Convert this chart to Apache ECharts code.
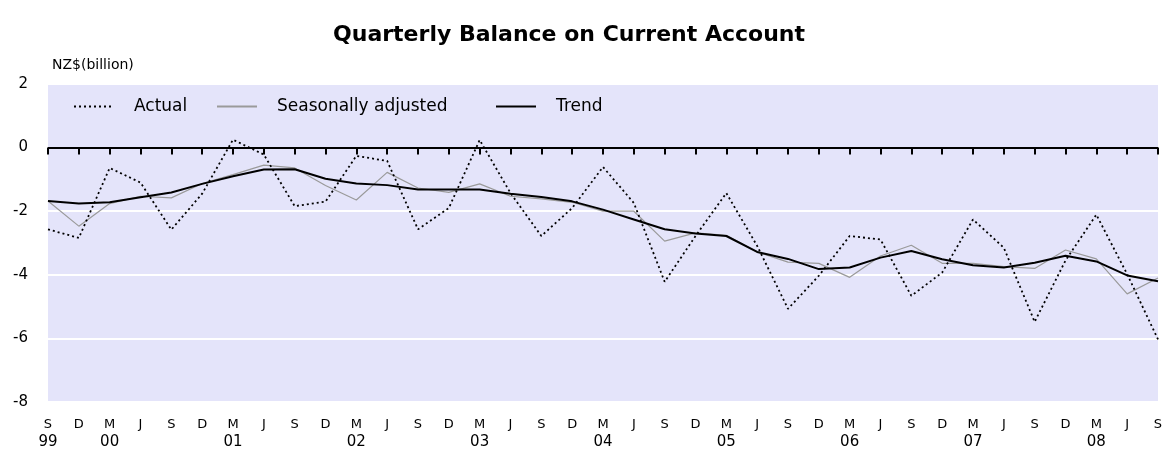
<!DOCTYPE html>
<html>
<head>
<meta charset="utf-8">
<script src="https://cdn.jsdelivr.net/npm/echarts@6/dist/echarts.min.js"></script>
<style>
  html, body { margin: 0; padding: 0; background: #fff; }
  #chart { width: 1166px; height: 467px; }
</style>
</head>
<body>
<div id="chart"></div>
<script>
// quarter tick labels, Sep 1999 .. Sep 2008
const months = ['S', 'D', 'M', 'J', 'S', 'D', 'M', 'J', 'S', 'D', 'M', 'J', 'S', 'D', 'M', 'J', 'S', 'D', 'M',
  'J', 'S', 'D', 'M', 'J', 'S', 'D', 'M', 'J', 'S', 'D', 'M', 'J', 'S', 'D', 'M', 'J', 'S']
const years = ['99', '', '00', '', '', '', '01', '', '', '', '02', '', '', '', '03', '', '', '', '04',
  '', '', '', '05', '', '', '', '06', '', '', '', '07', '', '', '', '08', '', '']

// NZ$ billion
const actual = [-2.57, -2.84, -0.64, -1.1, -2.58, -1.45, 0.25, -0.22, -1.84, -1.7, -0.26, -0.42,
  -2.57, -1.9, 0.24, -1.43, -2.78, -1.9, -0.61, -1.74, -4.22, -2.78, -1.43, -3.09,
  -5.07, -4.03, -2.78, -2.89, -4.66, -3.93, -2.26, -3.15, -5.48, -3.55, -2.11, -3.98, -6.03]
const seasonal = [-1.68, -2.47, -1.76, -1.53, -1.58, -1.13, -0.85, -0.55, -0.64, -1.19, -1.65, -0.78,
  -1.27, -1.41, -1.14, -1.53, -1.61, -1.72, -2.0, -2.0, -2.94, -2.68, -2.76, -3.28,
  -3.6, -3.64, -4.08, -3.41, -3.07, -3.64, -3.64, -3.74, -3.8, -3.22, -3.5, -4.6, -4.1]
const trend = [-1.68, -1.76, -1.72, -1.56, -1.41, -1.14, -0.9, -0.69, -0.68, -0.98, -1.13, -1.18,
  -1.32, -1.32, -1.32, -1.45, -1.55, -1.69, -1.95, -2.26, -2.57, -2.7, -2.78, -3.28,
  -3.5, -3.82, -3.77, -3.46, -3.25, -3.51, -3.7, -3.77, -3.62, -3.4, -3.58, -4.02, -4.2]

const categories = months.map((m, i) => m + i)
const font = 'DejaVu Sans'

const chart = echarts.init(document.getElementById('chart'))

// one legend per item so each can sit where the original puts it
const legendItem = (name, left) => ({
  data: [name],
  left: left,
  top: 93,
  itemWidth: 40,
  itemHeight: 14,
  selectedMode: false,
  itemStyle: { opacity: 0, borderWidth: 0 },
  textStyle: { fontFamily: font, fontSize: 17, color: '#000', padding: [0, 0, 0, 15] }
})

const option = {
  animation: false,
  backgroundColor: '#fff',
  title: {
    text: 'Quarterly Balance on Current Account',
    left: 564,
    top: 19,
    textAlign: 'center',
    textStyle: { fontFamily: font, fontSize: 22, fontWeight: 'bold', color: '#000' }
  },
  legend: [
    legendItem('Actual', 68),
    legendItem('Seasonally adjusted', 211),
    legendItem('Trend', 490)
  ],
  grid: {
    left: 48,
    right: 8,
    top: 84,
    bottom: 65,
    show: true,
    backgroundColor: '#e4e4fa',
    borderWidth: 0
  },
  xAxis: {
    type: 'category',
    data: categories,
    boundaryGap: false,
    axisLine: { show: false },
    axisTick: { show: true, length: 7, interval: 0, lineStyle: { color: '#000', width: 2 } },
    axisLabel: {
      interval: 0,
      margin: 16,
      color: '#000',
      fontFamily: font,
      formatter: (value, i) => `{m|${months[i]}}\n{y|${years[i] || ' '}}`,
      rich: {
        m: { fontFamily: font, fontSize: 13, lineHeight: 14, color: '#000' },
        y: { fontFamily: font, fontSize: 15, lineHeight: 20, color: '#000' }
      }
    },
    splitLine: { show: false }
  },
  yAxis: {
    type: 'value',
    min: -8,
    max: 2,
    interval: 2,
    name: 'NZ$(billion)',
    nameLocation: 'end',
    nameGap: 12,
    nameTextStyle: { fontFamily: font, fontSize: 14, color: '#000', align: 'left', padding: [0, 0, 0, 4] },
    axisLine: { show: false },
    axisTick: { show: false },
    axisLabel: { margin: 20, color: '#000', fontFamily: font, fontSize: 15 },
    splitLine: { show: true, lineStyle: { color: '#fff', width: 2 } }
  },
  series: [
    {
      name: 'Actual',
      type: 'line',
      data: actual,
      symbol: 'none',
      lineStyle: { color: '#000', width: 1.8, type: [2, 3] },
      itemStyle: { color: '#000' },
      z: 3
    },
    {
      name: 'Seasonally adjusted',
      type: 'line',
      data: seasonal,
      symbol: 'none',
      lineStyle: { color: '#9a9a9a', width: 1.2 },
      itemStyle: { color: '#9a9a9a' },
      z: 2
    },
    {
      name: 'Trend',
      type: 'line',
      data: trend,
      symbol: 'none',
      lineStyle: { color: '#000', width: 2 },
      itemStyle: { color: '#000' },
      z: 4,
      markLine: {
        silent: true,
        symbol: 'none',
        label: { show: false },
        lineStyle: { color: '#000', width: 2, type: 'solid' },
        data: [{ yAxis: 0 }]
      }
    }
  ]
}

chart.setOption(option)
</script>
</body>
</html>
